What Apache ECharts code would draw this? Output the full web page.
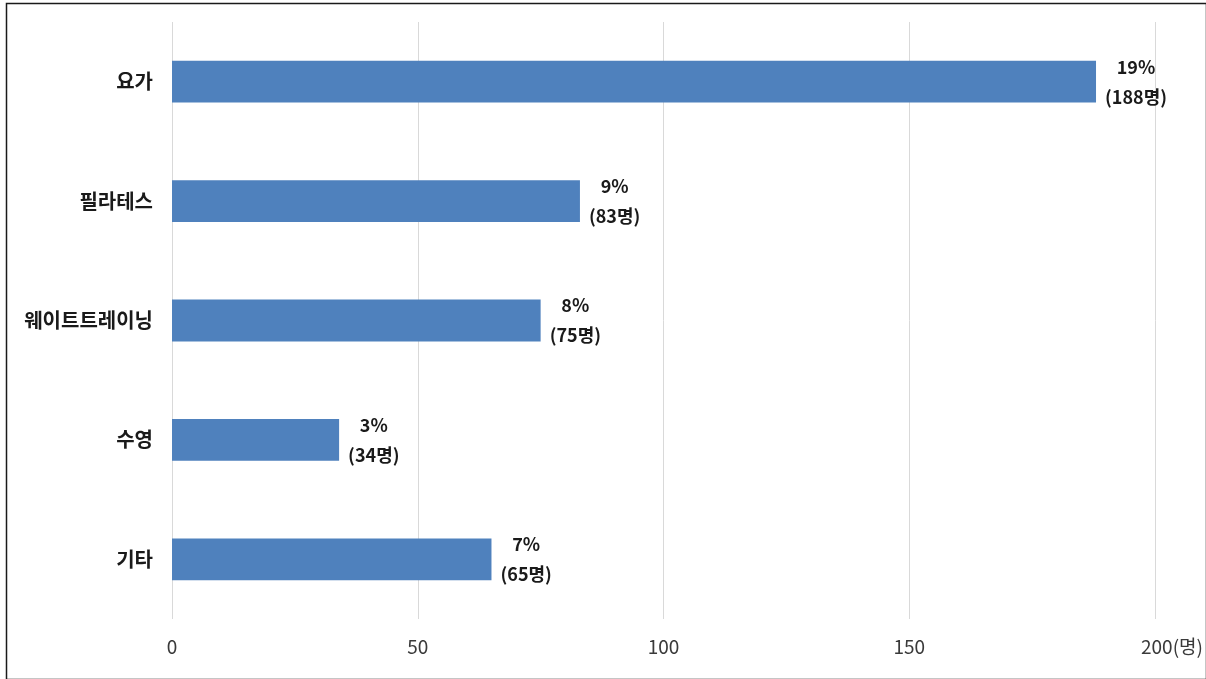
<!DOCTYPE html>
<html>
<head>
<meta charset="utf-8">
<script src="https://cdn.jsdelivr.net/npm/echarts@6/dist/echarts.min.js"></script>
<style>
  html, body { margin: 0; padding: 0; background: #fff; }
  #chart { width: 1206px; height: 679px; }
</style>
</head>
<body>
<div id="chart"></div>
<script>
// 운동 종목별 응답자 수와 비율
const categories = ['요가', '필라테스', '웨이트트레이닝', '수영', '기타'];
const counts = [188, 83, 75, 34, 65];
const percents = [19, 9, 8, 3, 7];
const xTicks = [0, 50, 100, 150, 200];
const unitLabel = '(명)';

const FONT = '"Noto Sans CJK KR", "Noto Sans", sans-serif';

const chart = echarts.init(document.getElementById('chart'), null, { renderer: 'canvas' });

chart.setOption({
  animation: false,
  backgroundColor: '#ffffff',
  graphic: [{
    type: 'rect',
    left: 4,
    top: 1,
    shape: { width: 1200, height: 676 },
    style: { fill: 'none', stroke: '#1a1a1a', lineWidth: 1.5 },
    silent: true
  }],
  grid: { left: 172, right: 51, top: 22, bottom: 60, containLabel: false },
  xAxis: {
    type: 'value',
    min: xTicks[0],
    max: xTicks[xTicks.length - 1],
    interval: xTicks[1] - xTicks[0],
    axisLine: { show: false },
    axisTick: { show: false },
    splitLine: { show: true, lineStyle: { color: '#d9d9d9', width: 1 } },
    axisLabel: {
      margin: 18,
      color: '#3a3a3a',
      fontFamily: FONT,
      fontSize: 19,
      formatter: function (v) {
        if (v === xTicks[xTicks.length - 1]) return '{pad| }' + v + unitLabel;
        return String(v);
      },
      rich: { pad: { width: 34 } }
    }
  },
  yAxis: {
    type: 'category',
    inverse: true,
    data: categories,
    axisLine: { show: false },
    axisTick: { show: false },
    splitLine: { show: false },
    axisLabel: {
      margin: 19,
      color: '#1a1a1a',
      fontFamily: FONT,
      fontWeight: 'bold',
      fontSize: 20
    }
  },
  series: [{
    type: 'bar',
    data: counts,
    barWidth: '35%',
    itemStyle: { color: '#4F81BD' },
    label: {
      show: true,
      position: 'right',
      distance: 9,
      fontFamily: FONT,
      formatter: function (p) {
        return '{t|' + percents[p.dataIndex] + '%}\n{t|(' + p.value + '명)}';
      },
      rich: {
        t: {
          align: 'center',
          fontFamily: FONT,
          fontWeight: 'bold',
          fontSize: 18,
          color: '#1a1a1a',
          lineHeight: 30
        }
      }
    }
  }]
});
</script>
</body>
</html>
